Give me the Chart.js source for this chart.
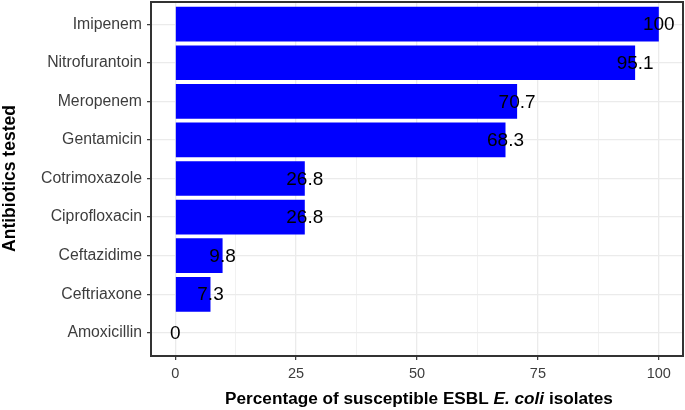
<!DOCTYPE html>
<html>
<head>
<meta charset="utf-8">
<script src="https://cdn.jsdelivr.net/npm/chart.js@4"></script>
<style>
    html, body { margin: 0; padding: 0; background: #fff; }
    #wrap { width: 685px; height: 410px; }
</style>
</head>
<body>
<div id="wrap"><canvas id="chart" width="685" height="410"></canvas></div>
<script>
// ── Data ──────────────────────────
const categories = ['Imipenem', 'Nitrofurantoin', 'Meropenem', 'Gentamicin', 'Cotrimoxazole',
    'Ciprofloxacin', 'Ceftazidime', 'Ceftriaxone', 'Amoxicillin'];
const susceptible = [100, 95.1, 70.7, 68.3, 26.8, 26.8, 9.8, 7.3, 0];
const xTicks = [0, 25, 50, 75, 100];
const xMinorTicks = [12.5, 37.5, 62.5, 87.5];

const FONT = "'Liberation Sans', Arial, sans-serif";
const GRID = '#EBEBEB';
const isMajor = c => xTicks.includes(c.tick && c.tick.value);

// Value labels, panel border and the mixed-style x title
const extras = {
    id: 'extras',
    afterDatasetsDraw(chart) {
        const ctx = chart.ctx;
        const meta = chart.getDatasetMeta(0);
        ctx.save();
        ctx.fillStyle = '#000';
        ctx.font = `19px ${FONT}`;
        ctx.textAlign = 'center';
        ctx.textBaseline = 'middle';
        meta.data.forEach((el, i) => {
            ctx.fillText(String(susceptible[i]), el.x, el.y + 1);
        });
        ctx.restore();
    },
    afterDraw(chart) {
        const ctx = chart.ctx;
        const a = chart.chartArea;
        const l = Math.round(a.left), r = Math.round(a.right);
        const t = Math.round(a.top), b = Math.round(a.bottom);
        ctx.save();
        ctx.fillStyle = '#333333';
        ctx.fillRect(l - 1, t, 2, b - t + 1);      // left
        ctx.fillRect(r - 1, t, 2, b - t + 1);      // right
        ctx.fillRect(l - 1, t, r - l + 2, 2);      // top
        ctx.fillRect(l - 1, b - 1, r - l + 2, 2);  // bottom

        // x title: "E. coli" in italics
        const parts = [
            ['bold', 'Percentage of susceptible ESBL '],
            ['italic bold', 'E. coli'],
            ['bold', ' isolates']
        ];
        const size = 17.2;
        let total = 0;
        parts.forEach(p => {
            ctx.font = `${p[0]} ${size}px ${FONT}`;
            total += ctx.measureText(p[1]).width;
        });
        let x = (a.left + a.right) / 2 - total / 2 + 2;
        ctx.fillStyle = '#000';
        ctx.textBaseline = 'middle';
        ctx.textAlign = 'left';
        parts.forEach(p => {
            ctx.font = `${p[0]} ${size}px ${FONT}`;
            ctx.fillText(p[1], x, 399);
            x += ctx.measureText(p[1]).width;
        });
        ctx.restore();
    }
};

const ctx = document.getElementById('chart').getContext('2d');
new Chart(ctx, {
    type: 'bar',
    data: {
        datasets: [{
            data: categories.map((c, i) => ({ x: susceptible[i], y: i })),
            backgroundColor: '#0000FF',
            borderWidth: 0,
            barPercentage: 0.9,
            categoryPercentage: 1
        }]
    },
    options: {
        indexAxis: 'y',
        responsive: false,
        animation: false,
        layout: { padding: { top: 1, right: 2, left: 0, bottom: 0 } },
        plugins: { legend: { display: false }, tooltip: { enabled: false } },
        scales: {
            x: {
                type: 'linear',
                min: -5,
                max: 105,
                offset: false,
                afterBuildTicks: s => { s.ticks = [...xTicks, ...xMinorTicks].sort((a, b) => a - b).map(v => ({ value: v })); },
                afterFit: s => { s.height = 54; },
                ticks: {
                    color: '#3D3D3D',
                    font: { family: FONT, size: 14.5 },
                    padding: 5,
                    maxRotation: 0,
                    autoSkip: false,
                    callback: v => xTicks.includes(v) ? String(v) : ''
                },
                grid: {
                    offset: false,
                    color: GRID,
                    lineWidth: c => isMajor(c) ? 1.3 : 0.7,
                    tickColor: c => isMajor(c) ? '#333333' : 'rgba(0,0,0,0)',
                    tickLength: 4,
                    tickWidth: 1.2
                },
                border: { display: false }
            },
            y: {
                type: 'linear',
                reverse: true,
                min: -0.6,
                max: 8.6,
                offset: false,
                afterBuildTicks: s => { s.ticks = categories.map((c, i) => ({ value: i })); },
                afterFit: s => { s.width = 151; s.paddingTop = 0; s.paddingBottom = 0; },
                ticks: {
                    color: '#3D3D3D',
                    font: { family: FONT, size: 15.8 },
                    padding: 5,
                    autoSkip: false,
                    callback: v => categories[v]
                },
                grid: {
                    offset: false,
                    color: GRID,
                    lineWidth: 1.3,
                    tickColor: '#333333',
                    tickLength: 4,
                    tickWidth: 1.2
                },
                border: { display: false },
                title: {
                    display: true,
                    text: 'Antibiotics tested',
                    color: '#000',
                    font: { family: FONT, size: 17.5, weight: 'bold' },
                    padding: { top: 0, bottom: 0 }
                }
            }
        }
    },
    plugins: [extras]
});
</script>
</body>
</html>
